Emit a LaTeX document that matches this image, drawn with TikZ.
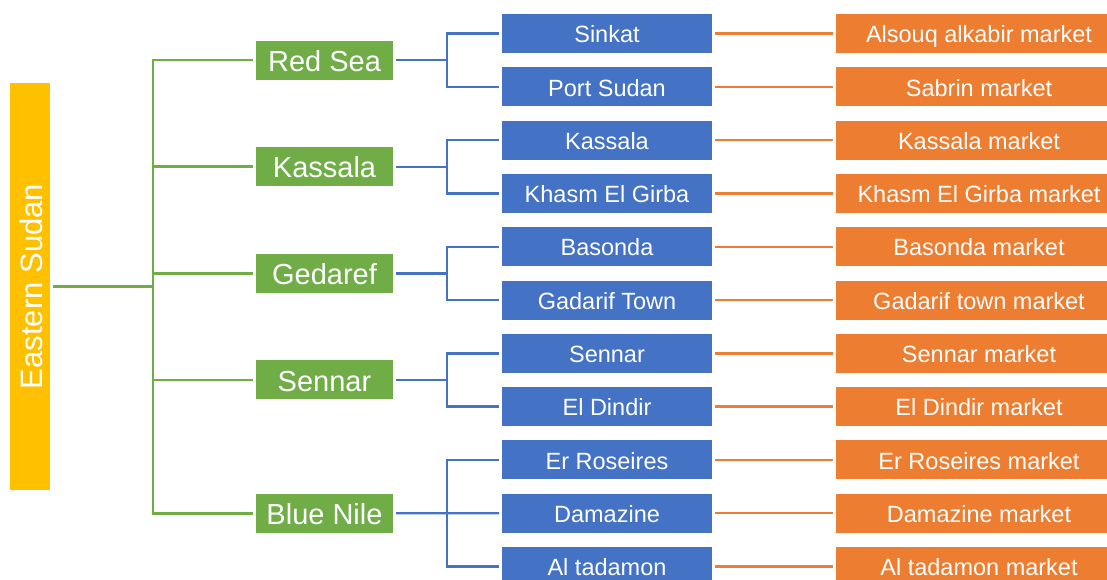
\documentclass[tikz,border=0pt]{standalone}
\usepackage{fontspec}
\setmainfont{Liberation Sans}
\usetikzlibrary{positioning,calc}
\definecolor{rootyellow}{RGB}{255, 192, 0}
\definecolor{stategreen}{RGB}{112, 173, 71}
\definecolor{townblue}{RGB}{68, 114, 196}
\definecolor{mktorange}{RGB}{237, 125, 49}

\begin{document}
\begin{tikzpicture}[x=1pt, y=-1pt, node distance=8.3pt and 118pt,
		box/.style={draw=none, outer sep=3pt, inner sep=0pt, text=white, text depth=0pt},
		rootbox/.style={box, fill=rootyellow, minimum width=407pt, minimum height=40pt, rotate=90, text height=24pt, font=\fontsize{31}{36}\selectfont},
		statebox/.style={box, fill=stategreen, minimum width=137pt, minimum height=39pt, text height=22.5pt, font=\fontsize{29}{34}\selectfont},
		townbox/.style={box, fill=townblue, minimum width=210pt, minimum height=39pt, text height=18.5pt, font=\fontsize{23.5}{28}\selectfont},
		mktbox/.style={box, fill=mktorange, minimum width=286pt, minimum height=39pt, text height=18.5pt, font=\fontsize{23.5}{28}\selectfont},
		gLine/.style={line width=2.6pt, color=stategreen},
		bLine/.style={line width=2.4pt, color=townblue},
		oLine/.style={line width=2.4pt, color=mktorange}
		]
	\useasboundingbox (0,0) rectangle (1107,580);
	
	% towns
	\node [townbox] (sinkat) at (607,33.5) {Sinkat};
	\node [townbox, below=of sinkat] (portsudan) {Port Sudan};
	\node [townbox, below=of portsudan] (kassala) {Kassala};
	\node [townbox, below=of kassala] (khasm) {Khasm El Girba};
	\node [townbox, below=of khasm] (basonda) {Basonda};
	\node [townbox, below=of basonda] (gadarif) {Gadarif Town};
	\node [townbox, below=of gadarif] (sennar) {Sennar};
	\node [townbox, below=of sennar] (dindir) {El Dindir};
	\node [townbox, below=of dindir] (roseires) {Er Roseires};
	\node [townbox, below=of roseires] (damazine) {Damazine};
	\node [townbox, below=of damazine] (tadamon) {Al tadamon};
	
	% markets
	\node [mktbox, right=of sinkat] (m-sinkat) {Alsouq alkabir market};
	\node [mktbox, right=of portsudan] (m-portsudan) {Sabrin market};
	\node [mktbox, right=of kassala] (m-kassala) {Kassala market};
	\node [mktbox, right=of khasm] (m-khasm) {Khasm El Girba market};
	\node [mktbox, right=of basonda] (m-basonda) {Basonda market};
	\node [mktbox, right=of gadarif] (m-gadarif) {Gadarif town market};
	\node [mktbox, right=of sennar] (m-sennar) {Sennar market};
	\node [mktbox, right=of dindir] (m-dindir) {El Dindir market};
	\node [mktbox, right=of roseires] (m-roseires) {Er Roseires market};
	\node [mktbox, right=of damazine] (m-damazine) {Damazine market};
	\node [mktbox, right=of tadamon] (m-tadamon) {Al tadamon market};
	
	% states and root
	\node [statebox] (redsea) at (324.5,60.15) {Red Sea};
	\node [statebox] (kassalast) at (324.5,166.75) {Kassala};
	\node [statebox] (gedaref) at (324.5,273.35) {Gedaref};
	\node [statebox] (sennarst) at (324.5,379.95) {Sennar};
	\node [statebox] (bluenile) at (324.5,513.2) {Blue Nile};
	\node [rootbox] (east) at (30,286.5) {Eastern Sudan};
	
	\draw [gLine] (east.south) -- ++(100,0) coordinate (trunk);
	\draw [gLine] (trunk) |- (redsea.west);
	\draw [gLine] (trunk) |- (kassalast.west);
	\draw [gLine] (trunk) |- (gedaref.west);
	\draw [gLine] (trunk) |- (sennarst.west);
	\draw [gLine] (trunk) |- (bluenile.west);
	
	\draw [bLine] (redsea.east) -- ++(51,0) |- (sinkat.west);
	\draw [bLine] (redsea.east) -- ++(51,0) |- (portsudan.west);
	\draw [bLine] (kassalast.east) -- ++(51,0) |- (kassala.west);
	\draw [bLine] (kassalast.east) -- ++(51,0) |- (khasm.west);
	\draw [bLine] (gedaref.east) -- ++(51,0) |- (basonda.west);
	\draw [bLine] (gedaref.east) -- ++(51,0) |- (gadarif.west);
	\draw [bLine] (sennarst.east) -- ++(51,0) |- (sennar.west);
	\draw [bLine] (sennarst.east) -- ++(51,0) |- (dindir.west);
	\draw [bLine] (bluenile.east) -- ++(51,0) |- (roseires.west);
	\draw [bLine] (bluenile.east) -- (damazine.west);
	\draw [bLine] (bluenile.east) -- ++(51,0) |- (tadamon.west);
	
	\draw [oLine] (sinkat) -- (m-sinkat);
	\draw [oLine] (portsudan) -- (m-portsudan);
	\draw [oLine] (kassala) -- (m-kassala);
	\draw [oLine] (khasm) -- (m-khasm);
	\draw [oLine] (basonda) -- (m-basonda);
	\draw [oLine] (gadarif) -- (m-gadarif);
	\draw [oLine] (sennar) -- (m-sennar);
	\draw [oLine] (dindir) -- (m-dindir);
	\draw [oLine] (roseires) -- (m-roseires);
	\draw [oLine] (damazine) -- (m-damazine);
	\draw [oLine] (tadamon) -- (m-tadamon);
\end{tikzpicture}
\end{document}
